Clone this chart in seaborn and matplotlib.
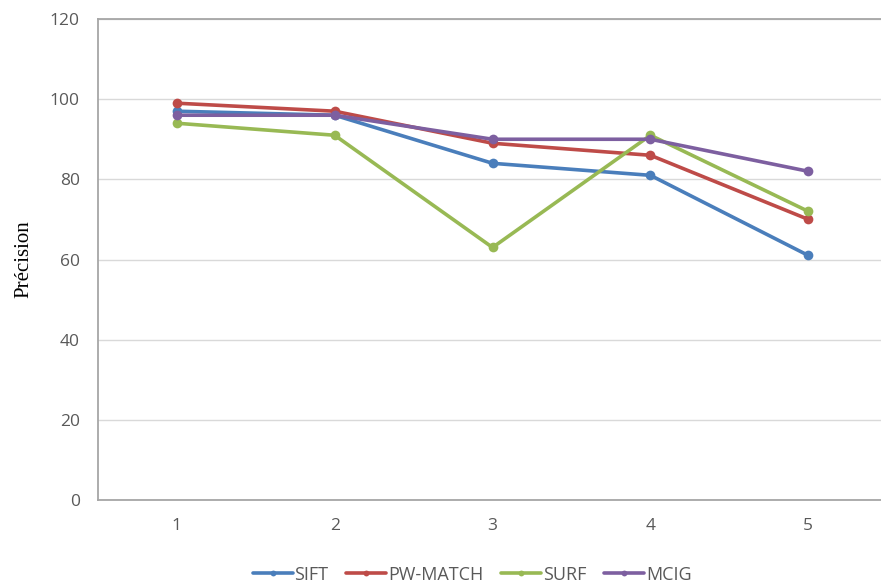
import matplotlib
matplotlib.use("Agg")
import matplotlib.pyplot as plt
import seaborn as sns
import pandas as pd

categories = [1, 2, 3, 4, 5]
sift = [97, 96, 84, 81, 61]
pw_match = [99, 97, 89, 86, 70]
surf = [94, 91, 63, 91, 72]
mcig = [96, 96, 90, 90, 82]
series_names = ["SIFT", "PW-MATCH", "SURF", "MCIG"]
colors = ["#4a7ebb", "#be4b48", "#98b954", "#7d5fa0"]
y_ticks = [0, 20, 40, 60, 80, 100, 120]

rows = []
for name, vals in zip(series_names, [sift, pw_match, surf, mcig]):
    for c, v in zip(categories, vals):
        rows.append({"x": c, "Précision": v, "series": name})
df = pd.DataFrame(rows)

sns.set_theme(style="white")
plt.rcParams['font.family'] = ['Open Sans', 'DejaVu Sans']

fig = plt.figure(figsize=(8.81, 5.85), dpi=100)
ax = fig.add_axes([0.111, 0.1453, 0.889, 0.8222])

sns.lineplot(data=df, x="x", y="Précision", hue="series", hue_order=series_names,
             palette=colors, marker="o", markersize=7, markeredgewidth=0,
             linewidth=2.6, ax=ax, legend=True)

ax.set_xlim(0.5, 5.46)
ax.set_ylim(0, 120)
ax.set_yticks(y_ticks)
ax.set_xticks(categories)
ax.set_xticklabels([str(c) for c in categories])
ax.grid(axis="y", color="#d9d9d9", linewidth=1)
ax.set_axisbelow(True)
ax.spines["right"].set_visible(False)
for s in ["top", "left", "bottom"]:
    ax.spines[s].set_color("#a6a6a6")
    ax.spines[s].set_linewidth(1.3)
ax.tick_params(axis="both", length=0, labelsize=12.5, labelcolor="#595959")
ax.tick_params(axis="y", pad=13)
ax.tick_params(axis="x", pad=13)
ax.set_xlabel("")
ax.set_ylabel("Précision", family=["Liberation Serif"], fontsize=15, color="#000000", labelpad=12)

handles, labels = ax.get_legend_handles_labels()
ax.legend(handles, labels, loc="center", bbox_to_anchor=(0.5 - 0.022, -0.155),
          ncol=4, frameon=False, fontsize=13, labelcolor="#595959",
          handlelength=2.2, handletextpad=0.1, columnspacing=1.0, markerscale=0.6)

fig.savefig("out.png", dpi=100)
